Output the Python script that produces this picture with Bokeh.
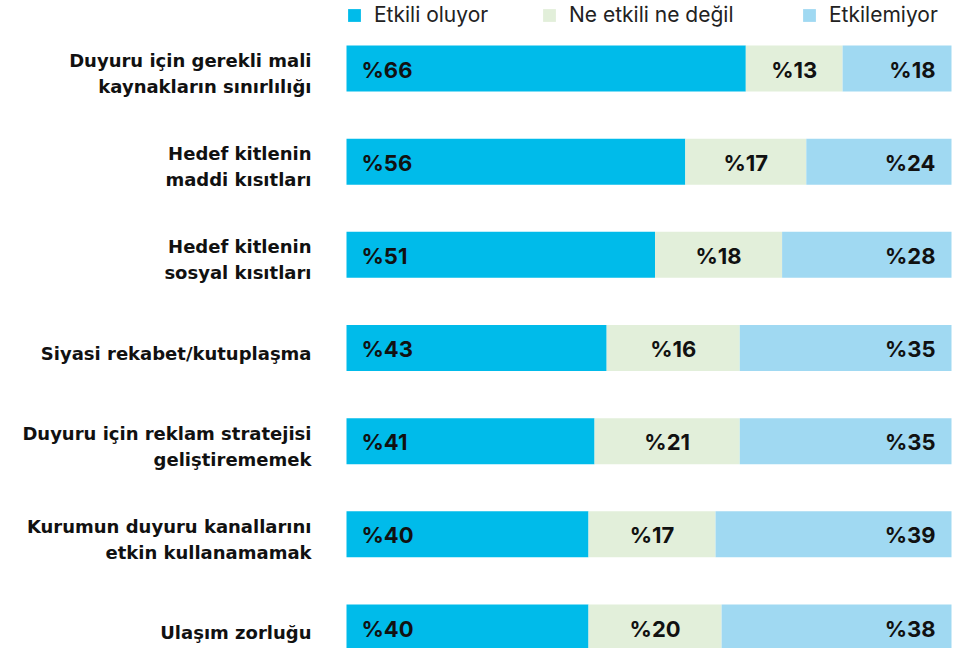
from bokeh.plotting import figure
from bokeh.models import ColumnDataSource, Range1d, Legend, LegendItem
from bokeh.core.properties import value
from bokeh.embed import file_html
from bokeh.resources import INLINE

categories = [
    "Duyuru için gerekli mali\nkaynakların sınırlılığı",
    "Hedef kitlenin\nmaddi kısıtları",
    "Hedef kitlenin\nsosyal kısıtları",
    "Siyasi rekabet/kutuplaşma",
    "Duyuru için reklam stratejisi\ngeliştirememek",
    "Kurumun duyuru kanallarını\netkin kullanamamak",
    "Ulaşım zorluğu",
]
etkili = [66, 56, 51, 43, 41, 40, 40]
notr = [13, 17, 18, 16, 21, 17, 20]
etkilemiyor = [18, 24, 28, 35, 35, 39, 38]
series_names = ["Etkili oluyor", "Ne etkili ne değil", "Etkilemiyor"]
colors = ["#00BBEA", "#E2EFDA", "#A0D9F2"]
FONT = "Inter"
CAT_FONT = "DejaVu Sans"

n = len(categories)
ypos = list(range(n))
total = 100
src = ColumnDataSource(dict(
    y=ypos,
    cat=categories,
    a_l=[0] * n,
    a_r=etkili,
    b_l=etkili,
    b_r=[total - c for c in etkilemiyor],
    c_l=[total - c for c in etkilemiyor],
    c_r=[total] * n,
    b_mid=[(a + total - c) / 2 for a, c in zip(etkili, etkilemiyor)],
    t_a=["%" + str(v) for v in etkili],
    t_b=["%" + str(v) for v in notr],
    t_c=["%" + str(v) for v in etkilemiyor],
    x0=[0] * n,
    x100=[total] * n,
))

W, H = 952, 648
pxu = 605 / 100.0
x_start = -346 / pxu
x_end = total + 1 / pxu
row = 93.17
y_top = -68 / row
y_bot = y_top + H / row

p = figure(width=W, height=H, output_backend="svg", toolbar_location=None,
           x_range=Range1d(x_start, x_end), y_range=Range1d(y_bot, y_top),
           min_border=0, min_border_left=0, min_border_right=0,
           min_border_top=0, min_border_bottom=0)
p.axis.visible = False
p.grid.visible = False
p.outline_line_color = None
p.background_fill_color = "white"

bh = 46 / row
ra = p.hbar(y="y", left="a_l", right="a_r", height=bh, source=src, fill_color=colors[0], line_color=None)
rb = p.hbar(y="y", left="b_l", right="b_r", height=bh, source=src, fill_color=colors[1], line_color=None)
rc = p.hbar(y="y", left="c_l", right="c_r", height=bh, source=src, fill_color=colors[2], line_color=None)

p.text(x="x0", y="y", text="cat", source=src, x_offset=-35, y_offset=5,
       text_align="right", text_baseline="middle", text_font=value(CAT_FONT),
       text_font_style="bold", text_font_size="18px", text_color="#111111",
       text_line_height=1.24)
p.text(x="x0", y="y", text="t_a", source=src, x_offset=15, y_offset=1,
       text_align="left", text_baseline="middle", text_font=value(FONT),
       text_font_style="bold", text_font_size="22px", text_color="#111111")
p.text(x="b_mid", y="y", text="t_b", source=src, y_offset=1,
       text_align="center", text_baseline="middle", text_font=value(FONT),
       text_font_style="bold", text_font_size="22px", text_color="#111111")
p.text(x="x100", y="y", text="t_c", source=src, x_offset=-16, y_offset=1,
       text_align="right", text_baseline="middle", text_font=value(FONT),
       text_font_style="bold", text_font_size="22px", text_color="#111111")

leg_x = [346, 541, 801]
for name, r, lx in zip(series_names, [ra, rb, rc], leg_x):
    lg = Legend(items=[LegendItem(label=name, renderers=[r])],
                location=(lx, H - 27), orientation="horizontal",
                glyph_width=16, glyph_height=16, label_standoff=12,
                label_height=24, padding=0, margin=0, spacing=0,
                border_line_color=None, background_fill_alpha=0,
                label_text_font=FONT, label_text_font_size="21px",
                label_text_color="#222222", label_text_baseline="middle")
    p.add_layout(lg)

open("out.html", "w").write(file_html(p, INLINE))
